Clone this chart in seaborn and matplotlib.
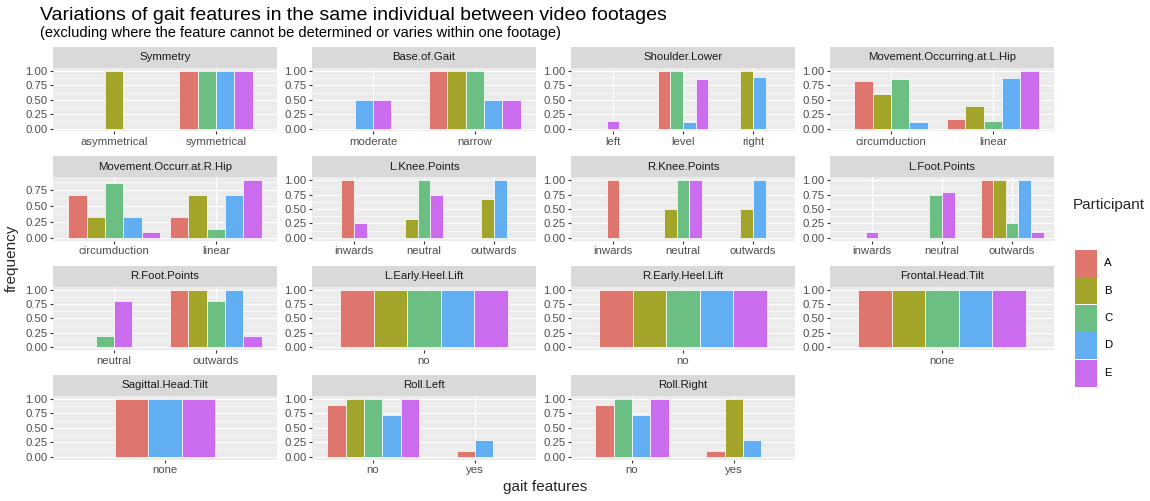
import numpy as np
import pandas as pd
import matplotlib
matplotlib.use("Agg")
import matplotlib.pyplot as plt
import seaborn as sns
from matplotlib.patches import Rectangle

nan = np.nan

# ---------------- data ----------------
features = ["Symmetry", "Base.of.Gait", "Shoulder.Lower", "Movement.Occurring.at.L.Hip",
            "Movement.Occurr.at.R.Hip", "L.Knee.Points", "R.Knee.Points", "L.Foot.Points",
            "R.Foot.Points", "L.Early.Heel.Lift", "R.Early.Heel.Lift", "Frontal.Head.Tilt",
            "Sagittal.Head.Tilt", "Roll.Left", "Roll.Right"]

feature_categories = [
    ["asymmetrical", "symmetrical"],
    ["moderate", "narrow"],
    ["left", "level", "right"],
    ["circumduction", "linear"],
    ["circumduction", "linear"],
    ["inwards", "neutral", "outwards"],
    ["inwards", "neutral", "outwards"],
    ["inwards", "neutral", "outwards"],
    ["neutral", "outwards"],
    ["no"],
    ["no"],
    ["none"],
    ["none"],
    ["no", "yes"],
    ["no", "yes"],
]

participants = ["A", "B", "C", "D", "E"]

# frequencies, flattened over (feature, category) in the order above
freq_A = [nan, 1.0,  nan, 1.0,  nan, 1.0, nan,  0.83, 0.17,  0.67, 0.33,  1.0, nan, nan,
          1.0, nan, nan,  nan, nan, 1.0,  nan, 1.0,  1.0,  1.0,  1.0,  1.0,  0.9, 0.1,  0.9, 0.1]
freq_B = [1.0, nan,  nan, 1.0,  nan, nan, 1.0,  0.6, 0.4,    0.33, 0.67,  nan, 0.33, 0.67,
          nan, 0.5, 0.5,  nan, nan, 1.0,  nan, 1.0,  1.0,  1.0,  1.0,  nan,  1.0, nan,  nan, 1.0]
freq_C = [nan, 1.0,  nan, 1.0,  nan, 1.0, nan,  0.86, 0.14,  0.86, 0.14,  nan, 1.0, nan,
          nan, 1.0, nan,  nan, 0.75, 0.25,  0.2, 0.8,  1.0,  1.0,  1.0,  nan,  1.0, nan,  1.0, nan]
freq_D = [nan, 1.0,  0.5, 0.5,  nan, 0.11, 0.89,  0.12, 0.88,  0.33, 0.67,  nan, nan, 1.0,
          nan, nan, 1.0,  nan, nan, 1.0,  nan, 1.0,  1.0,  1.0,  1.0,  1.0,  0.72, 0.28,  0.72, 0.28]
freq_E = [nan, 1.0,  0.5, 0.5,  0.14, 0.86, nan,  nan, 1.0,  0.09, 0.91,  0.25, 0.75, nan,
          nan, 1.0, nan,  0.1, 0.8, 0.1,  0.8, 0.2,  1.0,  1.0,  1.0,  1.0,  1.0, nan,  1.0, nan]

colors = ["#DE766E", "#A3A52A", "#6BBF82", "#62AEF3", "#CB6BEE"]

# ---------------- style ----------------
sns.set_theme(style="darkgrid", rc={
    "axes.facecolor": "#EBEBEB",
    "grid.color": "white",
    "axes.edgecolor": "none",
    "xtick.color": "#333333",
    "ytick.color": "#333333",
})
plt.rcParams["font.family"] = ["Liberation Sans", "DejaVu Sans"]

palette = dict(zip(participants, colors))
freqs = {"A": freq_A, "B": freq_B, "C": freq_C, "D": freq_D, "E": freq_E}

# long-form table
rows = []
k = 0
for fi, (feat, cats) in enumerate(zip(features, feature_categories)):
    for ci, cat in enumerate(cats):
        present = [p for p in participants if not np.isnan(freqs[p][k])]
        n = len(present)
        for j, p in enumerate(present):
            rows.append({"feature": feat, "category": cat, "cat_idx": ci,
                         "Participant": p, "freq": freqs[p][k],
                         "pos": ci + (j - (n - 1) / 2) * 0.18})
        k += 1
df = pd.DataFrame(rows)

W, H = 1150, 501
fig = plt.figure(figsize=(W / 100, H / 100), dpi=100)


def px(l, t, w, h):
    return [l / W, 1 - (t + h) / H, w / W, h / H]


col_left = [53, 312, 571, 830]
panel_w = 224
strip_top = [47, 156.3, 265.7, 375]
strip_h = 21
panel_h = 63.5
TICK_FS = 8.2

for fi, feat in enumerate(features):
    r, c = divmod(fi, 4)
    cats = feature_categories[fi]
    sub = df[df.feature == feat].copy()
    ax = fig.add_axes(px(col_left[c], strip_top[r] + strip_h, panel_w, panel_h))
    ax.set_axisbelow(True)
    upos = np.unique(sub["pos"].values)
    native = np.min(np.diff(upos)) if len(upos) > 1 else 1.0
    sns.barplot(data=sub, x="pos", y="freq", hue="Participant", hue_order=participants,
                palette=palette, native_scale=True, dodge=False, width=0.18 / native,
                orient="x", errorbar=None, saturation=1, edgecolor="white",
                linewidth=0.5, legend=False, ax=ax)
    n = len(cats)
    ax.set_xlim(-0.6, n - 0.4)
    ax.set_xticks(range(n))
    ax.set_xticklabels(cats)
    ymax = sub["freq"].max()
    ax.set_ylim(-0.05 * ymax, 1.05 * ymax)
    yt = [t for t in [0, 0.25, 0.5, 0.75, 1.0] if t <= ymax + 1e-9]
    ax.set_yticks(yt)
    ax.set_yticklabels([f"{t:.2f}" for t in yt])
    ax.set_yticks([0.125, 0.375, 0.625, 0.875], minor=True)
    ax.set_xlabel("")
    ax.set_ylabel("")
    ax.grid(which="major", color="white", lw=0.9)
    ax.grid(which="minor", axis="y", color="white", lw=0.45)
    ax.grid(which="minor", axis="x", visible=False)
    ax.tick_params(which="major", length=2.5, width=0.8, pad=1.5, labelsize=TICK_FS,
                   labelcolor="#4D4D4D", bottom=True, left=True)
    ax.tick_params(which="minor", length=0)
    for s in ax.spines.values():
        s.set_visible(False)

    sax = fig.add_axes(px(col_left[c], strip_top[r], panel_w, strip_h))
    sax.set_facecolor("#D9D9D9")
    sax.set_xticks([])
    sax.set_yticks([])
    sax.grid(False)
    for s in sax.spines.values():
        s.set_visible(False)
    sax.text(0.5, 0.5, feat, ha="center", va="center", fontsize=TICK_FS, color="#1A1A1A",
             transform=sax.transAxes)

fig.text(40 / W, 1 - 15 / H, "Variations of gait features in the same individual between video footages",
         fontsize=14, va="center", ha="left", color="black")
fig.text(40 / W, 1 - 33 / H, "(excluding where the feature cannot be determined or varies within one footage)",
         fontsize=10.5, va="center", ha="left", color="black")
fig.text(545 / W, 1 - 487 / H, "gait features", fontsize=11, ha="center", va="center")
fig.text(12 / W, 1 - 258 / H, "frequency", fontsize=11, ha="center", va="center", rotation=90)

# legend (drawn in its own pixel-coordinate axes)
lax = fig.add_axes(px(1065, 190, 85, 200))
lax.set_xlim(1065, 1150)
lax.set_ylim(390, 190)
lax.axis("off")
lax.text(1073, 205, "Participant", fontsize=11, va="center", ha="left")
key_h = 27
for i, p in enumerate(participants):
    top = 249.5 + i * 27.5
    lax.add_patch(Rectangle((1075, top), 22, key_h, facecolor=palette[p], edgecolor="none"))
    lax.text(1104, top + key_h / 2, p, fontsize=TICK_FS, va="center", ha="left", color="black")

fig.savefig("out.png", dpi=100)
